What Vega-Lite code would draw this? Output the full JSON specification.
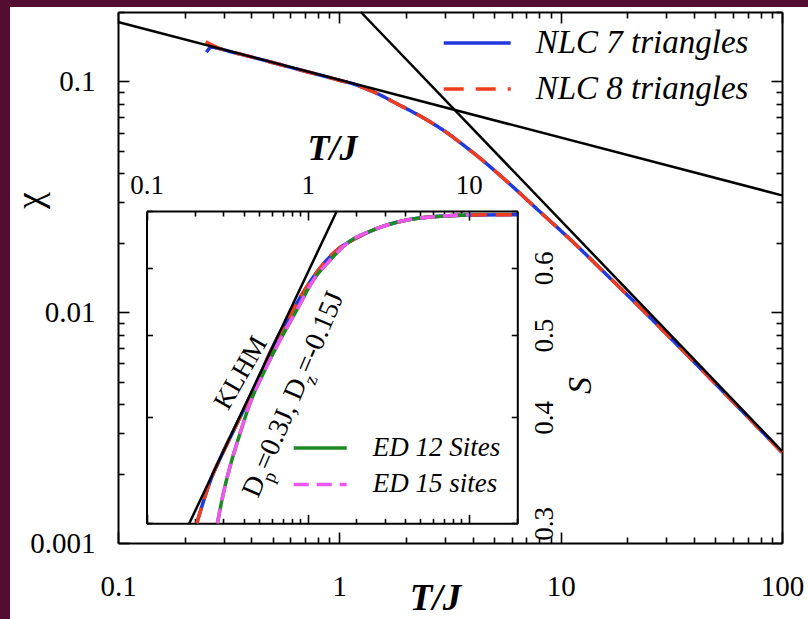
{
  "$schema": "https://vega.github.io/schema/vega-lite/v6.json",
  "width": 798,
  "height": 612,
  "autosize": "none",
  "padding": {"left": 10, "top": 7, "right": 0, "bottom": 0},
  "background": "#520d30",
  "config": {
    "view": {"fill": "white", "stroke": null},
    "axis": {
      "grid": false,
      "domainColor": "black",
      "domainWidth": 2,
      "tickColor": "black",
      "tickWidth": 1.6,
      "labelColor": "black",
      "titleColor": "black",
      "labelFont": "Liberation Serif",
      "titleFont": "Liberation Serif",
      "labelFlush": false,
      "labelOverlap": false
    }
  },
  "datasets": {
    "chi_nlc": [
      {"series": "NLC 7 triangles", "T": 0.251, "chi": 0.134},
      {"series": "NLC 7 triangles", "T": 0.2645, "chi": 0.1407},
      {"series": "NLC 7 triangles", "T": 0.28, "chi": 0.1395},
      {"series": "NLC 7 triangles", "T": 0.32, "chi": 0.1349},
      {"series": "NLC 7 triangles", "T": 0.4, "chi": 0.1278},
      {"series": "NLC 7 triangles", "T": 0.54, "chi": 0.1184},
      {"series": "NLC 7 triangles", "T": 0.7, "chi": 0.1108},
      {"series": "NLC 7 triangles", "T": 0.82, "chi": 0.1066},
      {"series": "NLC 7 triangles", "T": 1.0, "chi": 0.1012},
      {"series": "NLC 7 triangles", "T": 1.16, "chi": 0.0975},
      {"series": "NLC 7 triangles", "T": 1.3, "chi": 0.0935},
      {"series": "NLC 7 triangles", "T": 1.53, "chi": 0.0874},
      {"series": "NLC 7 triangles", "T": 1.8, "chi": 0.0805},
      {"series": "NLC 7 triangles", "T": 2.16, "chi": 0.0735},
      {"series": "NLC 7 triangles", "T": 2.6, "chi": 0.0664},
      {"series": "NLC 7 triangles", "T": 3.06, "chi": 0.06},
      {"series": "NLC 7 triangles", "T": 3.5, "chi": 0.0545},
      {"series": "NLC 7 triangles", "T": 4.32, "chi": 0.0465},
      {"series": "NLC 7 triangles", "T": 5.71, "chi": 0.0369},
      {"series": "NLC 7 triangles", "T": 8.08, "chi": 0.0272},
      {"series": "NLC 7 triangles", "T": 11.4, "chi": 0.0201},
      {"series": "NLC 7 triangles", "T": 15.6, "chi": 0.015},
      {"series": "NLC 7 triangles", "T": 22.8, "chi": 0.0105},
      {"series": "NLC 7 triangles", "T": 35, "chi": 0.00694},
      {"series": "NLC 7 triangles", "T": 50, "chi": 0.0049},
      {"series": "NLC 7 triangles", "T": 70, "chi": 0.00352},
      {"series": "NLC 7 triangles", "T": 100, "chi": 0.00247},
      {"series": "NLC 8 triangles", "T": 0.249, "chi": 0.1487},
      {"series": "NLC 8 triangles", "T": 0.2985, "chi": 0.1373},
      {"series": "NLC 8 triangles", "T": 0.32, "chi": 0.1349},
      {"series": "NLC 8 triangles", "T": 0.4, "chi": 0.1278},
      {"series": "NLC 8 triangles", "T": 0.54, "chi": 0.1184},
      {"series": "NLC 8 triangles", "T": 0.7, "chi": 0.1108},
      {"series": "NLC 8 triangles", "T": 0.82, "chi": 0.1066},
      {"series": "NLC 8 triangles", "T": 1.0, "chi": 0.1012},
      {"series": "NLC 8 triangles", "T": 1.16, "chi": 0.0975},
      {"series": "NLC 8 triangles", "T": 1.3, "chi": 0.0935},
      {"series": "NLC 8 triangles", "T": 1.53, "chi": 0.0874},
      {"series": "NLC 8 triangles", "T": 1.8, "chi": 0.0805},
      {"series": "NLC 8 triangles", "T": 2.16, "chi": 0.0735},
      {"series": "NLC 8 triangles", "T": 2.6, "chi": 0.0664},
      {"series": "NLC 8 triangles", "T": 3.06, "chi": 0.06},
      {"series": "NLC 8 triangles", "T": 3.5, "chi": 0.0545},
      {"series": "NLC 8 triangles", "T": 4.32, "chi": 0.0465},
      {"series": "NLC 8 triangles", "T": 5.71, "chi": 0.0369},
      {"series": "NLC 8 triangles", "T": 8.08, "chi": 0.0272},
      {"series": "NLC 8 triangles", "T": 11.4, "chi": 0.0201},
      {"series": "NLC 8 triangles", "T": 15.6, "chi": 0.015},
      {"series": "NLC 8 triangles", "T": 22.8, "chi": 0.0105},
      {"series": "NLC 8 triangles", "T": 35, "chi": 0.00694},
      {"series": "NLC 8 triangles", "T": 50, "chi": 0.0049},
      {"series": "NLC 8 triangles", "T": 70, "chi": 0.00352},
      {"series": "NLC 8 triangles", "T": 100, "chi": 0.00247}
    ],
    "chi_guides": [
      {"guide": "T^-1/4 power law", "T": 0.1, "chi": 0.181},
      {"guide": "T^-1/4 power law", "T": 100, "chi": 0.0321},
      {"guide": "Curie law 1/(4T)", "T": 1.25, "chi": 0.2},
      {"guide": "Curie law 1/(4T)", "T": 100, "chi": 0.0025}
    ],
    "s_nlc": [
      {"T": 0.205, "S": 0.3},
      {"T": 0.248, "S": 0.336},
      {"T": 0.293, "S": 0.361},
      {"T": 0.381, "S": 0.4},
      {"T": 0.4835, "S": 0.44},
      {"T": 0.613, "S": 0.486},
      {"T": 0.779, "S": 0.528},
      {"T": 0.942, "S": 0.562},
      {"T": 1.196, "S": 0.6},
      {"T": 1.592, "S": 0.634},
      {"T": 2.0, "S": 0.65},
      {"T": 2.563, "S": 0.665},
      {"T": 4.13, "S": 0.683},
      {"T": 6.65, "S": 0.69},
      {"T": 10.7, "S": 0.6925},
      {"T": 20, "S": 0.693}
    ],
    "s_ed": [
      {"series": "ED 12 Sites", "T": 0.2754, "S": 0.3},
      {"series": "ED 12 Sites", "T": 0.3, "S": 0.3255},
      {"series": "ED 12 Sites", "T": 0.33, "S": 0.35},
      {"series": "ED 12 Sites", "T": 0.381, "S": 0.383},
      {"series": "ED 12 Sites", "T": 0.439, "S": 0.4155},
      {"series": "ED 12 Sites", "T": 0.531, "S": 0.4506},
      {"series": "ED 12 Sites", "T": 0.675, "S": 0.4933},
      {"series": "ED 12 Sites", "T": 0.857, "S": 0.5352},
      {"series": "ED 12 Sites", "T": 1.086, "S": 0.5804},
      {"series": "ED 12 Sites", "T": 1.38, "S": 0.6129},
      {"series": "ED 12 Sites", "T": 1.752, "S": 0.641},
      {"series": "ED 12 Sites", "T": 2.563, "S": 0.665},
      {"series": "ED 12 Sites", "T": 4.13, "S": 0.683},
      {"series": "ED 12 Sites", "T": 6.65, "S": 0.69},
      {"series": "ED 12 Sites", "T": 10, "S": 0.6925},
      {"series": "ED 15 sites", "T": 0.2754, "S": 0.3},
      {"series": "ED 15 sites", "T": 0.3, "S": 0.3255},
      {"series": "ED 15 sites", "T": 0.33, "S": 0.35},
      {"series": "ED 15 sites", "T": 0.381, "S": 0.383},
      {"series": "ED 15 sites", "T": 0.439, "S": 0.4155},
      {"series": "ED 15 sites", "T": 0.531, "S": 0.4506},
      {"series": "ED 15 sites", "T": 0.675, "S": 0.4933},
      {"series": "ED 15 sites", "T": 0.857, "S": 0.5352},
      {"series": "ED 15 sites", "T": 1.086, "S": 0.5804},
      {"series": "ED 15 sites", "T": 1.38, "S": 0.6129},
      {"series": "ED 15 sites", "T": 1.752, "S": 0.641},
      {"series": "ED 15 sites", "T": 2.563, "S": 0.665},
      {"series": "ED 15 sites", "T": 4.13, "S": 0.683},
      {"series": "ED 15 sites", "T": 6.65, "S": 0.69},
      {"series": "ED 15 sites", "T": 10, "S": 0.6925}
    ],
    "s_klhm": [
      {"T": 0.1844, "S": 0.3},
      {"T": 1.518, "S": 0.7}
    ],
    "anchor": [{}]
  },
  "layer": [
    {
      "layer": [
        {
          "data": {"name": "chi_nlc"},
          "transform": [{"filter": "datum.series === 'NLC 7 triangles'"}],
          "mark": {"type": "line", "strokeWidth": 3.5, "strokeCap": "butt", "interpolate": "monotone"},
          "encoding": {
            "x": {
              "field": "T", "type": "quantitative",
              "scale": {"type": "log", "domain": [0.1, 100], "range": [108, 772], "nice": false},
              "axis": {
                "orient": "bottom", "offset": -76,
                "values": [0.1, 0.2, 0.3, 0.4, 0.5, 0.6, 0.7, 0.8, 0.9, 1, 2, 3, 4, 5, 6, 7, 8, 9, 10, 20, 30, 40, 50, 60, 70, 80, 90, 100],
                "tickSize": {"condition": {"test": "indexof([0.1, 1, 10, 100], datum.value) >= 0", "value": -11}, "value": -6},
                "labelExpr": "indexof([0.1, 1, 10, 100], datum.value) >= 0 ? format(datum.value, '~g') : ''",
                "labelFontSize": 29, "labelPadding": 40,
                "title": "T/J", "titleFontSize": 37, "titleFontStyle": "italic", "titleFontWeight": "bold",
                "titleX": 425, "titleY": 66, "titleAlign": "center", "titleBaseline": "alphabetic"
              }
            },
            "y": {
              "field": "chi", "type": "quantitative",
              "scale": {"type": "log", "domain": [0.001, 0.2], "range": [536, 5], "nice": false},
              "axis": {
                "orient": "left", "offset": -108,
                "values": [0.001, 0.002, 0.003, 0.004, 0.005, 0.006, 0.007, 0.008, 0.009, 0.01, 0.02, 0.03, 0.04, 0.05, 0.06, 0.07, 0.08, 0.09, 0.1, 0.2],
                "tickSize": {"condition": {"test": "indexof([0.001, 0.01, 0.1], datum.value) >= 0", "value": -11}, "value": -6},
                "labelExpr": "indexof([0.001, 0.01, 0.1], datum.value) >= 0 ? format(datum.value, '~g') : ''",
                "labelFontSize": 29, "labelPadding": 34,
                "title": "χ", "titleFontSize": 38, "titleFontWeight": "normal", "titleAngle": -90,
                "titleX": -88, "titleY": 193, "titleAlign": "center", "titleBaseline": "middle"
              }
            },
            "color": {
              "field": "series", "type": "nominal",
              "scale": {"domain": ["NLC 7 triangles", "NLC 8 triangles"], "range": ["#2038dc", "#f03c1e"]},
              "legend": {"title": null, "orient": "none", "legendX": 431.7, "legendY": 21, "symbolType": "stroke", "symbolSize": 4489, "symbolStrokeWidth": 3.5, "clipHeight": 30, "rowPadding": 13, "padding": 0, "labelFont": "Liberation Serif", "labelFontStyle": "italic", "labelFontSize": 33, "labelColor": "black", "labelOffset": 23, "labelLimit": 400}
            },
            "strokeDash": {
              "field": "series", "type": "nominal",
              "scale": {"domain": ["NLC 7 triangles", "NLC 8 triangles"], "range": [[1, 0], [20, 12]]},
              "legend": {"title": null, "orient": "none", "legendX": 431.7, "legendY": 21, "symbolType": "stroke", "symbolSize": 4489, "symbolStrokeWidth": 3.5, "clipHeight": 30, "rowPadding": 13, "padding": 0, "labelFont": "Liberation Serif", "labelFontStyle": "italic", "labelFontSize": 33, "labelColor": "black", "labelOffset": 23, "labelLimit": 400}
            }
          }
        },
        {
          "data": {"name": "chi_nlc"},
          "transform": [{"filter": "datum.series === 'NLC 8 triangles'"}],
          "mark": {"type": "line", "strokeWidth": 3.5, "strokeCap": "butt", "interpolate": "monotone"},
          "encoding": {
            "x": {"field": "T", "type": "quantitative", "scale": {"type": "log", "domain": [0.1, 100], "range": [108, 772], "nice": false}, "axis": null},
            "y": {"field": "chi", "type": "quantitative", "scale": {"type": "log", "domain": [0.001, 0.2], "range": [536, 5], "nice": false}, "axis": null},
            "color": {
              "field": "series", "type": "nominal",
              "scale": {"domain": ["NLC 7 triangles", "NLC 8 triangles"], "range": ["#2038dc", "#f03c1e"]},
              "legend": {"title": null, "orient": "none", "legendX": 431.7, "legendY": 21, "symbolType": "stroke", "symbolSize": 4489, "symbolStrokeWidth": 3.5, "clipHeight": 30, "rowPadding": 13, "padding": 0, "labelFont": "Liberation Serif", "labelFontStyle": "italic", "labelFontSize": 33, "labelColor": "black", "labelOffset": 23, "labelLimit": 400}
            },
            "strokeDash": {
              "field": "series", "type": "nominal",
              "scale": {"domain": ["NLC 7 triangles", "NLC 8 triangles"], "range": [[1, 0], [20, 12]]},
              "legend": {"title": null, "orient": "none", "legendX": 431.7, "legendY": 21, "symbolType": "stroke", "symbolSize": 4489, "symbolStrokeWidth": 3.5, "clipHeight": 30, "rowPadding": 13, "padding": 0, "labelFont": "Liberation Serif", "labelFontStyle": "italic", "labelFontSize": 33, "labelColor": "black", "labelOffset": 23, "labelLimit": 400}
            }
          }
        },
        {
          "data": {"name": "chi_guides"},
          "mark": {"type": "line", "color": "black", "strokeWidth": 2.5},
          "encoding": {
            "x": {
              "field": "T", "type": "quantitative",
              "scale": {"type": "log", "domain": [0.1, 100], "range": [108, 772], "nice": false},
              "axis": {
                "orient": "top", "offset": -5,
                "values": [0.1, 0.2, 0.3, 0.4, 0.5, 0.6, 0.7, 0.8, 0.9, 1, 2, 3, 4, 5, 6, 7, 8, 9, 10, 20, 30, 40, 50, 60, 70, 80, 90, 100],
                "tickSize": {"condition": {"test": "indexof([0.1, 1, 10, 100], datum.value) >= 0", "value": -11}, "value": -6},
                "labels": false, "title": null
              }
            },
            "y": {
              "field": "chi", "type": "quantitative",
              "scale": {"type": "log", "domain": [0.001, 0.2], "range": [536, 5], "nice": false},
              "axis": {
                "orient": "right", "offset": -26,
                "values": [0.001, 0.002, 0.003, 0.004, 0.005, 0.006, 0.007, 0.008, 0.009, 0.01, 0.02, 0.03, 0.04, 0.05, 0.06, 0.07, 0.08, 0.09, 0.1, 0.2],
                "tickSize": {"condition": {"test": "indexof([0.001, 0.01, 0.1], datum.value) >= 0", "value": -11}, "value": -6},
                "labels": false, "title": null
              }
            },
            "detail": {"field": "guide", "type": "nominal"}
          }
        }
      ],
      "resolve": {"axis": {"x": "independent", "y": "independent"}}
    },
    {
      "layer": [
        {
          "data": {"name": "s_nlc"},
          "mark": {"type": "line", "color": "#2038dc", "strokeWidth": 3.5, "strokeCap": "butt", "interpolate": "monotone"},
          "encoding": {
            "x": {
              "field": "T", "type": "quantitative",
              "scale": {"type": "log", "domain": [0.1, 20], "range": [136.5, 507.3], "nice": false},
              "axis": {
                "orient": "bottom", "offset": -95.7,
                "values": [0.1, 0.2, 0.3, 0.4, 0.5, 0.6, 0.7, 0.8, 0.9, 1, 2, 3, 4, 5, 6, 7, 8, 9, 10, 20],
                "tickSize": {"condition": {"test": "indexof([0.1, 1, 10], datum.value) >= 0", "value": -9}, "value": -5},
                "labels": false, "title": null
              }
            },
            "y": {
              "field": "S", "type": "quantitative",
              "scale": {"type": "log", "domain": [0.3, 0.7], "range": [516.3, 204], "nice": false},
              "axis": {
                "orient": "left", "offset": -136.5,
                "values": [0.3, 0.4, 0.5, 0.6, 0.7],
                "tickSize": -6, "labels": false, "title": null
              }
            }
          }
        },
        {
          "data": {"name": "s_nlc"},
          "mark": {"type": "line", "color": "#f03c1e", "strokeWidth": 3.5, "strokeCap": "butt", "strokeDash": [16, 9], "interpolate": "monotone"},
          "encoding": {
            "x": {"field": "T", "type": "quantitative", "scale": {"type": "log", "domain": [0.1, 20], "range": [136.5, 507.3], "nice": false}, "axis": null},
            "y": {"field": "S", "type": "quantitative", "scale": {"type": "log", "domain": [0.3, 0.7], "range": [516.3, 204], "nice": false}, "axis": null}
          }
        },
        {
          "data": {"name": "s_ed"},
          "transform": [{"filter": "datum.series === 'ED 12 Sites'"}],
          "mark": {"type": "line", "strokeWidth": 3.5, "strokeCap": "butt", "interpolate": "monotone"},
          "encoding": {
            "x": {"field": "T", "type": "quantitative", "scale": {"type": "log", "domain": [0.1, 20], "range": [136.5, 507.3], "nice": false}, "axis": null},
            "y": {"field": "S", "type": "quantitative", "scale": {"type": "log", "domain": [0.3, 0.7], "range": [516.3, 204], "nice": false}, "axis": null},
            "color": {
              "field": "series", "type": "nominal",
              "scale": {"domain": ["ED 12 Sites", "ED 15 sites"], "range": ["#1c8a24", "#ef55ef"]},
              "legend": {"title": null, "orient": "none", "legendX": 281.7, "legendY": 429, "symbolType": "stroke", "symbolSize": 2809, "symbolStrokeWidth": 3.5, "clipHeight": 24, "rowPadding": 9.4, "padding": 0, "labelFont": "Liberation Serif", "labelFontStyle": "italic", "labelFontSize": 27, "labelColor": "black", "labelOffset": 24, "labelLimit": 400}
            },
            "strokeDash": {
              "field": "series", "type": "nominal",
              "scale": {"domain": ["ED 12 Sites", "ED 15 sites"], "range": [[1, 0], [15, 8]]},
              "legend": {"title": null, "orient": "none", "legendX": 281.7, "legendY": 429, "symbolType": "stroke", "symbolSize": 2809, "symbolStrokeWidth": 3.5, "clipHeight": 24, "rowPadding": 9.4, "padding": 0, "labelFont": "Liberation Serif", "labelFontStyle": "italic", "labelFontSize": 27, "labelColor": "black", "labelOffset": 24, "labelLimit": 400}
            }
          }
        },
        {
          "data": {"name": "s_ed"},
          "transform": [{"filter": "datum.series === 'ED 15 sites'"}],
          "mark": {"type": "line", "strokeWidth": 3.5, "strokeCap": "butt", "interpolate": "monotone"},
          "encoding": {
            "x": {"field": "T", "type": "quantitative", "scale": {"type": "log", "domain": [0.1, 20], "range": [136.5, 507.3], "nice": false}, "axis": null},
            "y": {"field": "S", "type": "quantitative", "scale": {"type": "log", "domain": [0.3, 0.7], "range": [516.3, 204], "nice": false}, "axis": null},
            "color": {
              "field": "series", "type": "nominal",
              "scale": {"domain": ["ED 12 Sites", "ED 15 sites"], "range": ["#1c8a24", "#ef55ef"]},
              "legend": {"title": null, "orient": "none", "legendX": 281.7, "legendY": 429, "symbolType": "stroke", "symbolSize": 2809, "symbolStrokeWidth": 3.5, "clipHeight": 24, "rowPadding": 9.4, "padding": 0, "labelFont": "Liberation Serif", "labelFontStyle": "italic", "labelFontSize": 27, "labelColor": "black", "labelOffset": 24, "labelLimit": 400}
            },
            "strokeDash": {
              "field": "series", "type": "nominal",
              "scale": {"domain": ["ED 12 Sites", "ED 15 sites"], "range": [[1, 0], [15, 8]]},
              "legend": {"title": null, "orient": "none", "legendX": 281.7, "legendY": 429, "symbolType": "stroke", "symbolSize": 2809, "symbolStrokeWidth": 3.5, "clipHeight": 24, "rowPadding": 9.4, "padding": 0, "labelFont": "Liberation Serif", "labelFontStyle": "italic", "labelFontSize": 27, "labelColor": "black", "labelOffset": 24, "labelLimit": 400}
            }
          }
        },
        {
          "data": {"name": "s_klhm"},
          "mark": {"type": "line", "color": "black", "strokeWidth": 2.5},
          "encoding": {
            "x": {
              "field": "T", "type": "quantitative",
              "scale": {"type": "log", "domain": [0.1, 20], "range": [136.5, 507.3], "nice": false},
              "axis": {
                "orient": "top", "offset": -204,
                "values": [0.1, 0.2, 0.3, 0.4, 0.5, 0.6, 0.7, 0.8, 0.9, 1, 2, 3, 4, 5, 6, 7, 8, 9, 10, 20],
                "tickSize": {"condition": {"test": "indexof([0.1, 1, 10], datum.value) >= 0", "value": -9}, "value": -5},
                "labelExpr": "indexof([0.1, 1, 10], datum.value) >= 0 ? format(datum.value, '~g') : ''",
                "labelFontSize": 27, "labelPadding": 21,
                "title": "T/J", "titleFontSize": 36, "titleFontStyle": "italic", "titleFontWeight": "bold", "titlePadding": 0
              }
            },
            "y": {
              "field": "S", "type": "quantitative",
              "scale": {"type": "log", "domain": [0.3, 0.7], "range": [516.3, 204], "nice": false},
              "axis": {
                "orient": "right", "offset": -290.7,
                "values": [0.3, 0.4, 0.5, 0.6, 0.7],
                "tickSize": -6,
                "labelExpr": "datum.value < 0.65 ? format(datum.value, '.1f') : ''",
                "labelAngle": -90, "labelAlign": "center", "labelBaseline": "top",
                "labelFontSize": 27, "labelPadding": 20,
                "title": "S", "titleFontSize": 34, "titleFontStyle": "italic", "titleFontWeight": "normal", "titleAngle": -90,
                "titleX": 62.7, "titleY": 378, "titleAlign": "center", "titleBaseline": "middle"
              }
            }
          }
        },
        {
          "data": {"name": "anchor"},
          "mark": {"type": "text", "text": "KLHM", "font": "Liberation Serif", "fontSize": 27, "angle": -60, "align": "center", "baseline": "middle", "color": "black"},
          "encoding": {
            "x": {"datum": 0.386, "type": "quantitative", "scale": {"type": "log", "domain": [0.1, 20], "range": [136.5, 507.3], "nice": false}, "axis": null},
            "y": {"datum": 0.451, "type": "quantitative", "scale": {"type": "log", "domain": [0.3, 0.7], "range": [516.3, 204], "nice": false}, "axis": null}
          }
        },
        {
          "data": {"name": "anchor"},
          "mark": {"type": "text", "text": "D", "font": "Liberation Serif", "fontSize": 28, "angle": -67, "align": "left", "baseline": "alphabetic", "color": "black"},
          "encoding": {
            "x": {"datum": 0.4927, "type": "quantitative", "scale": {"type": "log", "domain": [0.1, 20], "range": [136.5, 507.3], "nice": false}, "axis": null},
            "y": {"datum": 0.3204, "type": "quantitative", "scale": {"type": "log", "domain": [0.3, 0.7], "range": [516.3, 204], "nice": false}, "axis": null}
          }
        },
        {
          "data": {"name": "anchor"},
          "mark": {"type": "text", "text": "p", "font": "Liberation Serif", "fontSize": 19, "angle": -67, "align": "left", "baseline": "alphabetic", "dx": 20, "dy": 8, "color": "black"},
          "encoding": {
            "x": {"datum": 0.4927, "type": "quantitative", "scale": {"type": "log", "domain": [0.1, 20], "range": [136.5, 507.3], "nice": false}, "axis": null},
            "y": {"datum": 0.3204, "type": "quantitative", "scale": {"type": "log", "domain": [0.3, 0.7], "range": [516.3, 204], "nice": false}, "axis": null}
          }
        },
        {
          "data": {"name": "anchor"},
          "mark": {"type": "text", "text": "=0.3J, D", "font": "Liberation Serif", "fontSize": 28, "angle": -67, "align": "left", "baseline": "alphabetic", "dx": 30, "color": "black"},
          "encoding": {
            "x": {"datum": 0.4927, "type": "quantitative", "scale": {"type": "log", "domain": [0.1, 20], "range": [136.5, 507.3], "nice": false}, "axis": null},
            "y": {"datum": 0.3204, "type": "quantitative", "scale": {"type": "log", "domain": [0.3, 0.7], "range": [516.3, 204], "nice": false}, "axis": null}
          }
        },
        {
          "data": {"name": "anchor"},
          "mark": {"type": "text", "text": "z", "font": "Liberation Serif", "fontSize": 19, "angle": -67, "align": "left", "baseline": "alphabetic", "dx": 126, "dy": 8, "color": "black"},
          "encoding": {
            "x": {"datum": 0.4927, "type": "quantitative", "scale": {"type": "log", "domain": [0.1, 20], "range": [136.5, 507.3], "nice": false}, "axis": null},
            "y": {"datum": 0.3204, "type": "quantitative", "scale": {"type": "log", "domain": [0.3, 0.7], "range": [516.3, 204], "nice": false}, "axis": null}
          }
        },
        {
          "data": {"name": "anchor"},
          "mark": {"type": "text", "text": "=-0.15J", "font": "Liberation Serif", "fontSize": 28, "angle": -67, "align": "left", "baseline": "alphabetic", "dx": 135, "color": "black"},
          "encoding": {
            "x": {"datum": 0.4927, "type": "quantitative", "scale": {"type": "log", "domain": [0.1, 20], "range": [136.5, 507.3], "nice": false}, "axis": null},
            "y": {"datum": 0.3204, "type": "quantitative", "scale": {"type": "log", "domain": [0.3, 0.7], "range": [516.3, 204], "nice": false}, "axis": null}
          }
        }
      ],
      "resolve": {"axis": {"x": "independent", "y": "independent"}}
    }
  ],
  "resolve": {
    "scale": {"x": "independent", "y": "independent", "color": "independent", "strokeDash": "independent"},
    "axis": {"x": "independent", "y": "independent"}
  }
}
